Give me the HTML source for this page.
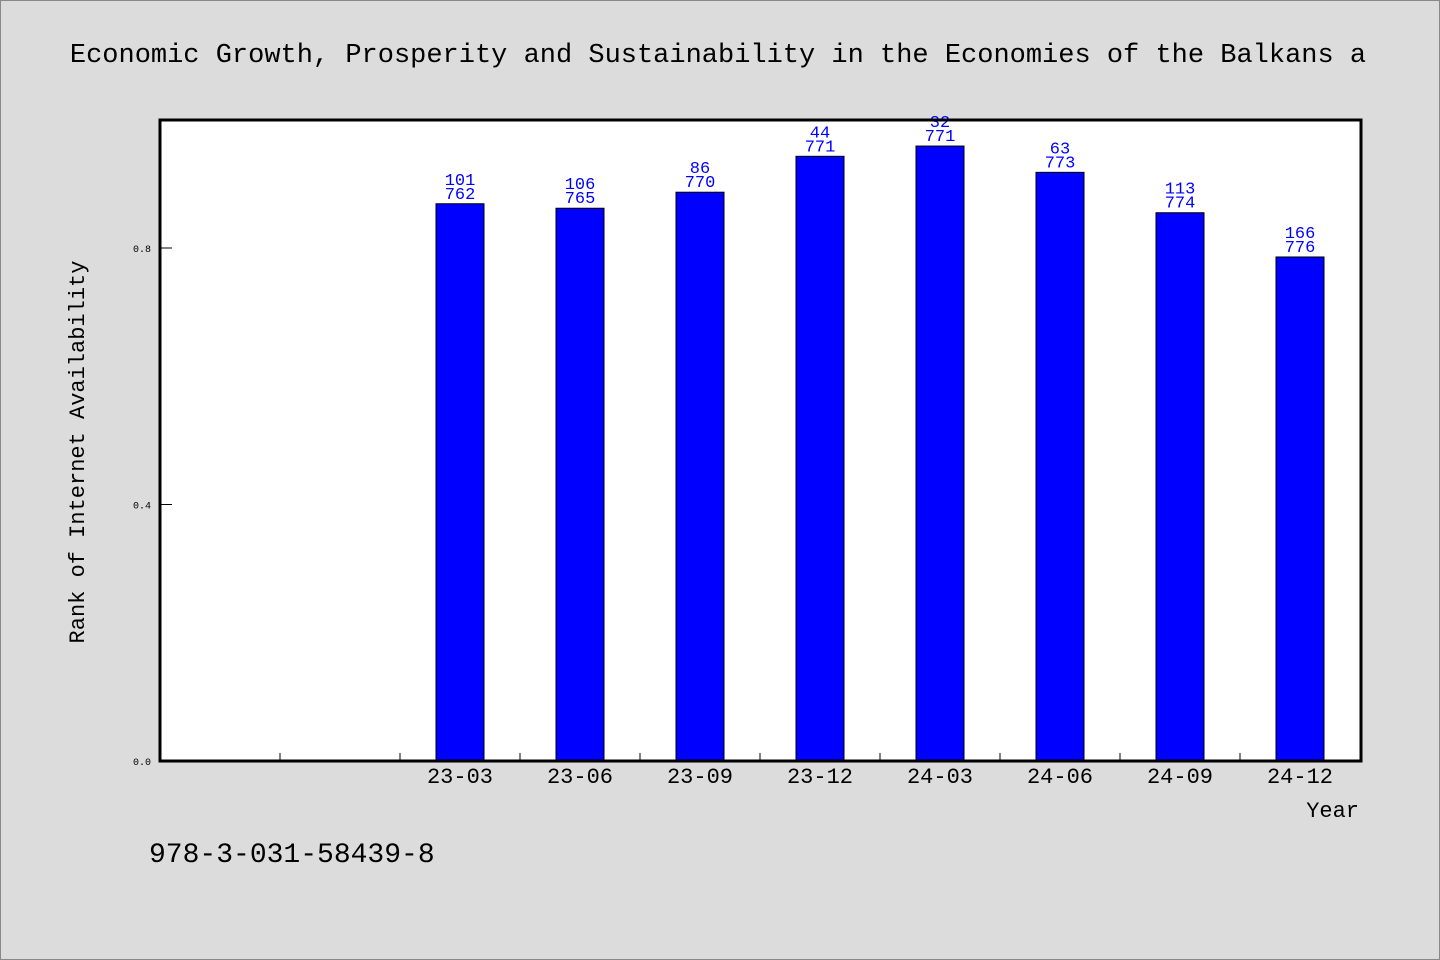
<!DOCTYPE html>
<html><head><meta charset="utf-8"><style>
html,body{margin:0;padding:0;background:#dcdcdc;}
svg{display:block;font-family:"WenQuanYi Zen Hei","Liberation Mono",monospace;}
</style></head><body>
<svg id="c" width="1440" height="960">
<rect x="0.5" y="0.5" width="1439" height="959" fill="#dcdcdc" stroke="#888"/>
<text x="718" y="62" font-size="27" text-anchor="middle">Economic Growth, Prosperity and Sustainability in the Economies of the Balkans a</text>
<rect x="160" y="120" width="1200" height="641" fill="#fff"/>
<g id="bars"></g>
<rect x="160" y="120" width="1201" height="641" fill="none" stroke="#000" stroke-width="3"/>
<text transform="translate(84,452) rotate(-90)" font-size="22" text-anchor="middle">Rank of Internet Availability</text>
<text x="1359" y="817" font-size="22" text-anchor="end">Year</text>
<text x="149" y="862" font-size="28">978-3-031-58439-8</text>
</svg>
<script>
const categories=["","","23-03","23-06","23-09","23-12","24-03","24-06","24-09","24-12"];
const values=[null,null,0.869,0.862,0.887,0.943,0.959,0.918,0.855,0.786];
const labelTop=["","","101","106","86","44","32","63","113","166"];
const labelBottom=["","","762","765","770","771","771","773","774","776"];
const yTicks=[0,0.4,0.8];
const yTickLabels=["0.0","0.4","0.8"];
const NS="http://www.w3.org/2000/svg";
const svg=document.getElementById('c'), g=document.getElementById('bars');
const X0=160,Xw=1200,Y0=761,Ypx=641.25;
const slot=Xw/categories.length;
const x=i=>X0+slot*i+slot/2;
const y=v=>Y0-v*Ypx;
function mk(t,a,p){const e=document.createElementNS(NS,t);for(const k in a)e.setAttribute(k,a[k]);(p||svg).appendChild(e);return e;}
categories.forEach((c,i)=>{
  if(i>0){const t=mk('line',{x1:X0+slot*i,x2:X0+slot*i,y1:Y0,y2:Y0-8,stroke:'#000'});
    
    }
  if(values[i]==null)return;
  const top=y(values[i]);
  const r=mk('rect',{x:x(i)-24,y:top,width:48,height:Y0-top,fill:'#0000ff',stroke:'#000','stroke-width':1},g);
  
  
  const l1=mk('text',{x:x(i),y:top-19,'font-size':17,fill:'#0000ff','text-anchor':'middle'},g);l1.textContent=labelTop[i];
  
  
  const l2=mk('text',{x:x(i),y:top-5,'font-size':17,fill:'#0000ff','text-anchor':'middle'},g);l2.textContent=labelBottom[i];
  
  
  const xl=mk('text',{x:x(i),y:783,'font-size':22,'text-anchor':'middle'});xl.textContent=c;
  
  
});
yTicks.forEach((v,i)=>{
  const t=mk('line',{x1:X0,x2:X0+12,y1:y(v),y2:y(v),stroke:'#000'});
  
  
  const l=mk('text',{x:151,y:y(v)+4,'font-size':10,'text-anchor':'end'});l.textContent=yTickLabels[i];
  
  
});
</script>
</body></html>
